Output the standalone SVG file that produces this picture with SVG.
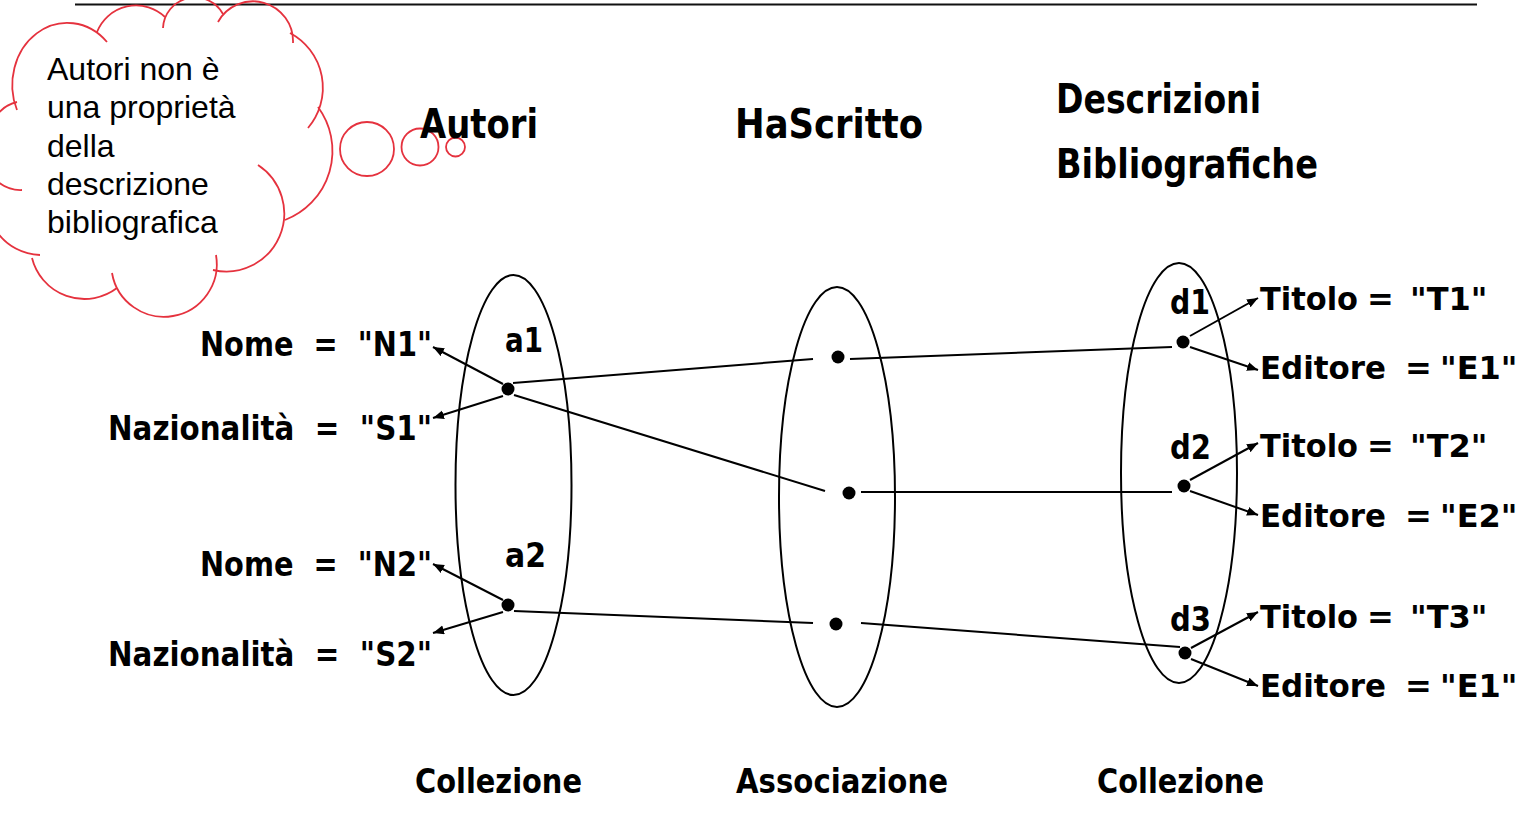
<svg xmlns="http://www.w3.org/2000/svg" width="1518" height="836" viewBox="0 0 1518 836">
<style>
.t{font-family:"DejaVu Sans","Liberation Sans",sans-serif;font-weight:bold;fill:#000}
.attr{font-size:33px}
.rattr{font-size:32px}
.title{font-size:40px}
.lbl{font-size:34px}
.note{font-family:"Liberation Sans",Arial,sans-serif;font-size:32px;fill:#000}
.cloud{fill:none;stroke:#e5323e;stroke-width:1.8}
.ell{fill:none;stroke:#000;stroke-width:2}
.ln{fill:none;stroke:#000;stroke-width:2}
.arr{fill:none;stroke:#000;stroke-width:2;marker-end:url(#ah)}
.dot{fill:#000}
</style>
<defs>
<marker id="ah" markerUnits="userSpaceOnUse" markerWidth="12" markerHeight="10" refX="11" refY="4.5" orient="auto">
<path d="M0,0 L11,4.5 L0,9 z" fill="#000"/>
</marker>
</defs>
<rect width="1518" height="836" fill="#fff"/>
<line x1="75" y1="4.5" x2="1477" y2="4.5" stroke="#111" stroke-width="2"/>

<g id="cloud-note">
<path class="cloud" d="M17 110 A55 62 0 0 1 107 42"/>
<path class="cloud" d="M97 32 A42 42 0 0 1 165 17"/>
<path class="cloud" d="M163 28 A32 32 0 0 1 223 14"/>
<path class="cloud" d="M218 22 A40 40 0 0 1 293 43"/>
<path class="cloud" d="M290 33 A62 62 0 0 1 308 128"/>
<path class="cloud" d="M318 107 A74 74 0 0 1 285 220"/>
<path class="cloud" d="M258 165 A58 58 0 0 1 213 270"/>
<path class="cloud" d="M216 255 A52 52 0 0 1 112 273"/>
<path class="cloud" d="M117 288 A54 54 0 0 1 32 258"/>
<path class="cloud" d="M40 255 A55 55 0 0 1 -3 232"/>
<path class="cloud" d="M22 190 A35 35 0 0 1 -3 181"/>
<path class="cloud" d="M-3 115 A35 35 0 0 1 17 102"/>
<circle class="cloud" cx="367" cy="149" r="27"/>
<circle class="cloud" cx="420" cy="147" r="18.5"/>
<circle class="cloud" cx="455.5" cy="147" r="9.5"/>
<text class="note" x="47" y="80">Autori non è</text>
<text class="note" x="47" y="118">una proprietà</text>
<text class="note" x="47" y="157">della</text>
<text class="note" x="47" y="195">descrizione</text>
<text class="note" x="47" y="233">bibliografica</text>
</g>

<g id="titles">
<text class="t title" x="420" y="138" textLength="118" lengthAdjust="spacingAndGlyphs">Autori</text>
<text class="t title" x="735" y="138" textLength="188" lengthAdjust="spacingAndGlyphs">HaScritto</text>
<text class="t title" x="1056" y="113" textLength="205" lengthAdjust="spacingAndGlyphs">Descrizioni</text>
<text class="t title" x="1056" y="178" textLength="262" lengthAdjust="spacingAndGlyphs">Bibliografiche</text>
</g>

<g id="autori">
<ellipse class="ell" cx="513.5" cy="485" rx="58" ry="210"/>
<circle class="dot" cx="508" cy="389" r="6.5"/>
<circle class="dot" cx="508" cy="605" r="6.5"/>
<text class="t lbl" x="505" y="352" textLength="38" lengthAdjust="spacingAndGlyphs">a1</text>
<text class="t lbl" x="505" y="567" textLength="41" lengthAdjust="spacingAndGlyphs">a2</text>
</g>

<g id="hascritto">
<ellipse class="ell" cx="837" cy="497" rx="58" ry="210"/>
<circle class="dot" cx="838" cy="357" r="6.5"/>
<circle class="dot" cx="849" cy="493" r="6.5"/>
<circle class="dot" cx="836" cy="624" r="6.5"/>
</g>

<g id="descrizioni">
<ellipse class="ell" cx="1179" cy="473" rx="58" ry="210"/>
<circle class="dot" cx="1183" cy="342" r="6.5"/>
<circle class="dot" cx="1184" cy="486" r="6.5"/>
<circle class="dot" cx="1185" cy="653" r="6.5"/>
<text class="t lbl" x="1170" y="314" textLength="40" lengthAdjust="spacingAndGlyphs">d1</text>
<text class="t lbl" x="1170" y="459" textLength="41" lengthAdjust="spacingAndGlyphs">d2</text>
<text class="t lbl" x="1170" y="631" textLength="41" lengthAdjust="spacingAndGlyphs">d3</text>
</g>

<g id="attributes">
<text class="t attr" x="200" y="356" textLength="232" lengthAdjust="spacingAndGlyphs" xml:space="preserve">Nome  =  "N1"</text>
<text class="t attr" x="108" y="440" textLength="324" lengthAdjust="spacingAndGlyphs" xml:space="preserve">Nazionalità  =  "S1"</text>
<text class="t attr" x="200" y="576" textLength="232" lengthAdjust="spacingAndGlyphs" xml:space="preserve">Nome  =  "N2"</text>
<text class="t attr" x="108" y="666" textLength="324" lengthAdjust="spacingAndGlyphs" xml:space="preserve">Nazionalità  =  "S2"</text>
<text class="t rattr" y="310"><tspan x="1260" textLength="98" lengthAdjust="spacingAndGlyphs">Titolo</tspan> <tspan x="1367">=</tspan> <tspan x="1410">"T1"</tspan></text>
<text class="t rattr" y="379"><tspan x="1260" textLength="126" lengthAdjust="spacingAndGlyphs">Editore</tspan> <tspan x="1405">=</tspan> <tspan x="1440">"E1"</tspan></text>
<text class="t rattr" y="457"><tspan x="1260" textLength="98" lengthAdjust="spacingAndGlyphs">Titolo</tspan> <tspan x="1367">=</tspan> <tspan x="1410">"T2"</tspan></text>
<text class="t rattr" y="527"><tspan x="1260" textLength="126" lengthAdjust="spacingAndGlyphs">Editore</tspan> <tspan x="1405">=</tspan> <tspan x="1440">"E2"</tspan></text>
<text class="t rattr" y="628"><tspan x="1260" textLength="98" lengthAdjust="spacingAndGlyphs">Titolo</tspan> <tspan x="1367">=</tspan> <tspan x="1410">"T3"</tspan></text>
<text class="t rattr" y="697"><tspan x="1260" textLength="126" lengthAdjust="spacingAndGlyphs">Editore</tspan> <tspan x="1405">=</tspan> <tspan x="1440">"E1"</tspan></text>
</g>

<g id="captions">
<text class="t attr" x="415" y="793" textLength="167" lengthAdjust="spacingAndGlyphs">Collezione</text>
<text class="t attr" x="736" y="793" textLength="212" lengthAdjust="spacingAndGlyphs">Associazione</text>
<text class="t attr" x="1097" y="793" textLength="167" lengthAdjust="spacingAndGlyphs">Collezione</text>
</g>

<g id="connectors">
<line class="ln" x1="513" y1="383" x2="813" y2="359"/>
<line class="ln" x1="850" y1="359" x2="1172" y2="347"/>
<line class="ln" x1="514" y1="395" x2="825" y2="491"/>
<line class="ln" x1="861" y1="492" x2="1172" y2="492"/>
<line class="ln" x1="514" y1="611" x2="813" y2="623"/>
<line class="ln" x1="861" y1="623" x2="1180" y2="647"/>
<line class="arr" x1="503" y1="384" x2="433" y2="347"/>
<line class="arr" x1="503" y1="396" x2="433" y2="418"/>
<line class="arr" x1="503" y1="600" x2="433" y2="564"/>
<line class="arr" x1="503" y1="612" x2="433" y2="633"/>
<line class="arr" x1="1190" y1="336" x2="1258" y2="298"/>
<line class="arr" x1="1190" y1="347" x2="1258" y2="370"/>
<line class="arr" x1="1190" y1="480" x2="1258" y2="443"/>
<line class="arr" x1="1190" y1="491" x2="1258" y2="515"/>
<line class="arr" x1="1191" y1="648" x2="1258" y2="612"/>
<line class="arr" x1="1191" y1="659" x2="1258" y2="686"/>
</g>
</svg>
